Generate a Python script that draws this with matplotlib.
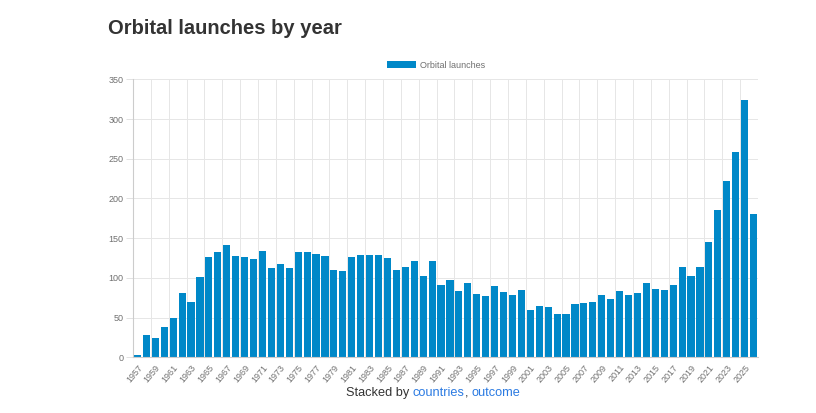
import numpy as np
import matplotlib.pyplot as plt

years = list(range(1957, 2027))
launches = [3, 28, 24, 38, 50, 81, 70, 101, 126, 132,
            141, 128, 126, 124, 134, 113, 117, 113, 132, 132,
            130, 128, 110, 109, 126, 129, 129, 129, 125, 110,
            114, 121, 102, 121, 91, 97, 83, 93, 80, 77,
            90, 82, 78, 85, 59, 65, 63, 55, 55, 67,
            68, 69, 78, 74, 84, 78, 81, 93, 86, 85,
            91, 114, 102, 114, 145, 186, 222, 259, 324, 180]
series_name = "Orbital launches"
title = "Orbital launches by year"

bar_color = "#0088c8"
grid_color = "#e6e6e6"
tick_color = "#707070"

plt.rcParams['font.family'] = ['Liberation Sans', 'DejaVu Sans']

fig = plt.figure(figsize=(8.16, 4.13), dpi=100)
ax = fig.add_axes([133 / 816, 1 - 357.3 / 413, 625 / 816, 278 / 413])

x = np.arange(len(years))
ax.bar(x, launches, width=0.8, color=bar_color, label=series_name, zorder=2)

ax.set_xlim(-0.5, len(years) - 0.5)
ax.set_ylim(0, 350)
ax.set_yticks(range(0, 351, 50))
ax.tick_params(axis='y', labelsize=6.5, colors=tick_color, length=5, width=0.6,
               color='#dddddd', pad=2)

# labels every other year, grid lines at the left edge of labelled bars
ax.set_xticks(x[::2])
ax.set_xticklabels([str(y) for y in years[::2]], rotation=50, ha='right',
                   rotation_mode='anchor', fontsize=6.5, color=tick_color)
ax.tick_params(axis='x', length=0, pad=4)
for xi in x[::2]:
    ax.axvline(xi - 0.5, color=grid_color, lw=0.7, zorder=0)
ax.axvline(len(years) - 0.5, color=grid_color, lw=0.7, zorder=0)
ax.yaxis.grid(True, color=grid_color, lw=0.7, zorder=0)

for s in ['top', 'right']:
    ax.spines[s].set_visible(False)
ax.spines['left'].set_color('#cccccc')
ax.spines['bottom'].set_color('#cccccc')
ax.spines['left'].set_linewidth(0.8)
ax.spines['bottom'].set_linewidth(0.8)

ax.legend(loc='lower center', bbox_to_anchor=(0.485, 1.005), frameon=False,
          fontsize=6.5, handlelength=3.2, handleheight=0.9, handletextpad=0.5,
          labelcolor=tick_color)

fig.text(108 / 816, 1 - 28 / 413, title, fontsize=14.5, fontweight='bold',
         color='#333333', va='center', ha='left')

# footer with link-coloured words
y_foot = 1 - 393 / 413
t1 = fig.text(346 / 816, y_foot, "Stacked by ", fontsize=9.2, color='#333333',
              va='center', ha='left')
fig.canvas.draw()
r = fig.canvas.get_renderer()
bb = t1.get_window_extent(r)
t2 = fig.text(bb.x1 / 816, y_foot, "countries", fontsize=9.2, color='#2a7ae2',
              va='center', ha='left')
bb = t2.get_window_extent(r)
t3 = fig.text(bb.x1 / 816, y_foot, ", ", fontsize=9.2, color='#333333',
              va='center', ha='left')
bb = t3.get_window_extent(r)
fig.text(bb.x1 / 816, y_foot, "outcome", fontsize=9.2, color='#2a7ae2',
         va='center', ha='left')

fig.savefig("out.png", dpi=100, facecolor='white')
